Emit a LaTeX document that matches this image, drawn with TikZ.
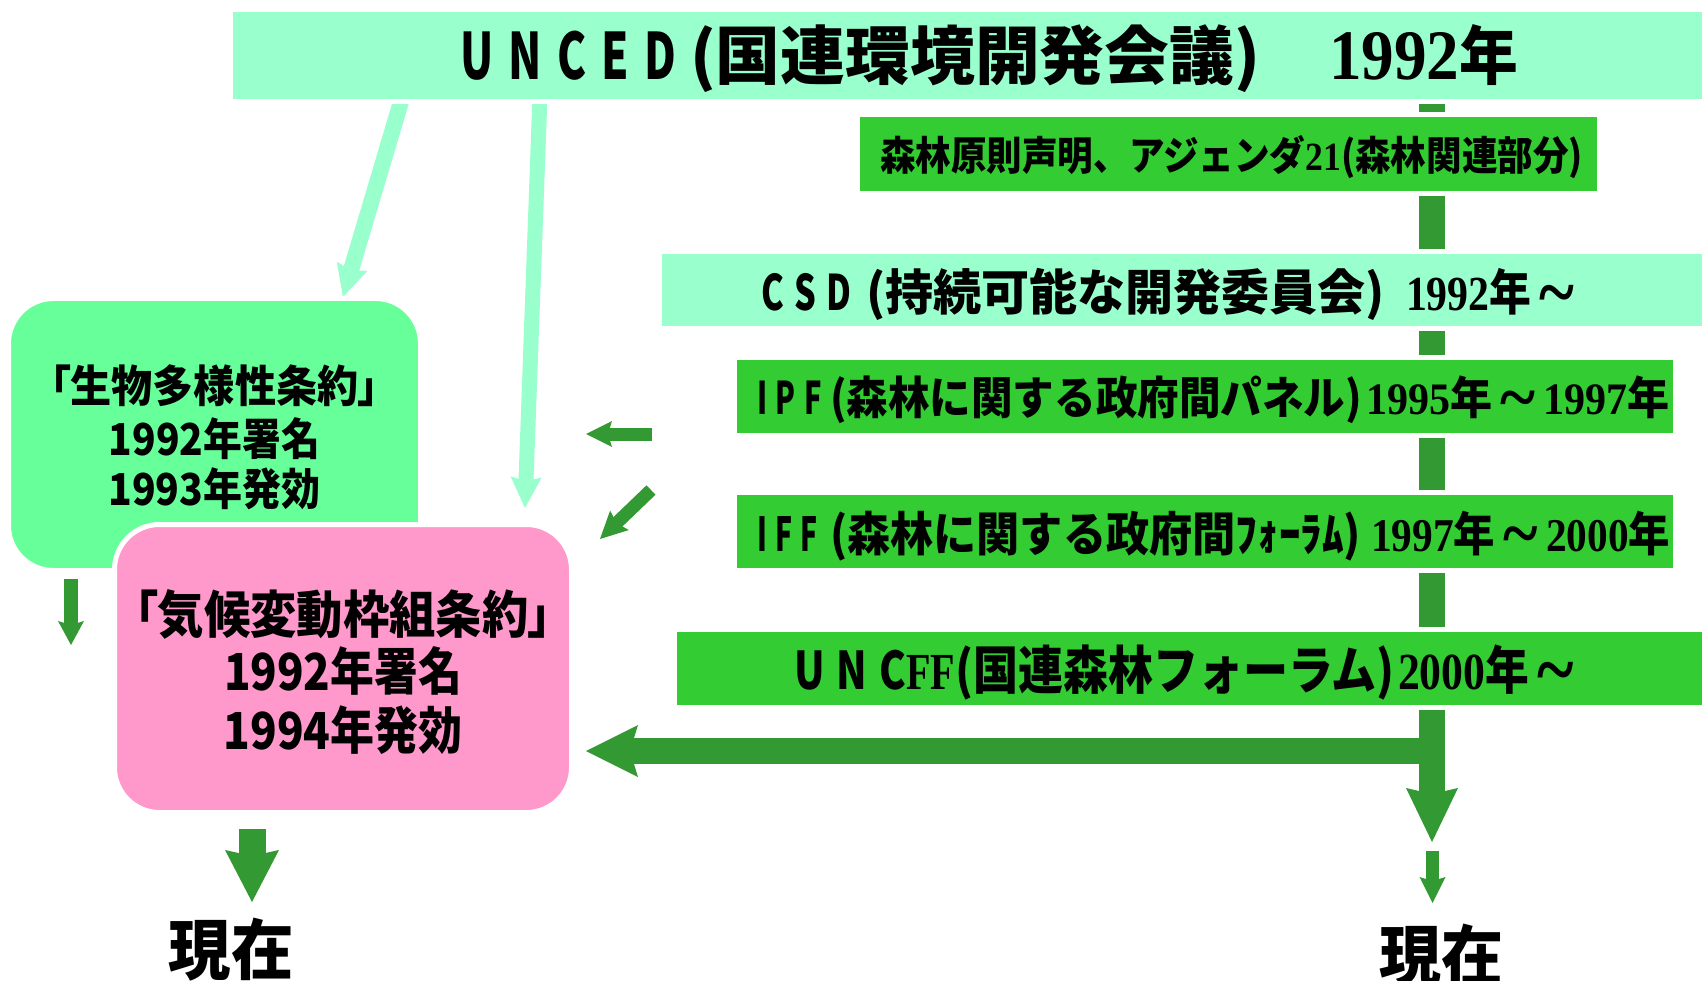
\documentclass[tikz,border=0pt]{standalone}
\usepackage{fontspec}
\usepackage{graphicx}
\usetikzlibrary{arrows.meta}
\newfontfamily\jp{Noto Sans CJK JP}
\newfontfamily\jpp{Noto Sans CJK JP}[RawFeature=+palt]
\newfontfamily\tnum{Liberation Serif}
\definecolor{mint}{HTML}{99FFCC}
\definecolor{lgreen}{HTML}{66FF99}
\definecolor{bgreen}{HTML}{33CC33}
\definecolor{dgreen}{HTML}{339933}
\definecolor{pinkc}{HTML}{FF99CC}
\definecolor{tealc}{HTML}{2E8B57}
\newcommand{\gw}[3]{\resizebox{#1pt}{\height}{\fontsize{#2pt}{#2pt}\selectfont #3}}
\newcommand{\tld}{{\tnum\bfseries\hspace{.2em}\raisebox{-0.16em}{\scalebox{1.6}{\textasciitilde}}\hspace{.2em}}}
\begin{document}
\begin{tikzpicture}[x=1pt,y=-1pt,
  box/.style={draw=white,line width=5pt,inner sep=0pt,outer sep=0pt,anchor=north west},
  lbl/.style={inner sep=0pt,outer sep=0pt,anchor=base west},
  clbl/.style={inner sep=0pt,outer sep=0pt,anchor=base},
  minta/.style={draw=mint,line width=#1},
  darka/.style={draw=dgreen,line width=#1},
  tipS/.style={-{Stealth[length=#1,width=#1,inset=4pt,line width=0pt]}},
]
\useasboundingbox (0,0) rectangle (1702,981);
\clip (0,0) rectangle (1702,981);
\fill[white] (0,0) rectangle (1702,981);
% coordinates for connectors
\coordinate (m1s) at (403,95);
\coordinate (m1e) at (343,297);
\coordinate (m2s) at (540,95);
\coordinate (m2e) at (525,508);
\coordinate (bartop) at (1432,95);
\coordinate (barend) at (1432,842);
\coordinate (hjoin) at (1432,751);
\coordinate (htip) at (586,751);
% mint arrows from UNCED
\draw[minta=16pt,tipS=32pt] (m1s) -- (m1e);
\draw[minta=15pt,tipS=31pt] (m2s) -- (m2e);
% main timeline bar and the big arrow to the climate convention
\draw[darka=26pt,-{Stealth[length=54pt,width=52pt,inset=6pt,line width=0pt]}] (bartop) -- (barend);
\draw[darka=26pt,-{Stealth[length=52pt,width=52pt,inset=8pt,line width=0pt]}] (hjoin) -- (htip);
% boxes
\node[box,fill=mint,minimum width=1484pt,minimum height=92pt] (unced) at (230.5,9.5) {};
\node[box,fill=bgreen,minimum width=742pt,minimum height=79pt] (forest) at (857.5,114.5) {};
\node[box,fill=mint,minimum width=1055pt,minimum height=77pt] (csd) at (659.5,251.5) {};
\node[box,fill=bgreen,minimum width=941pt,minimum height=78pt] (ipf) at (734.5,357.5) {};
\node[box,fill=bgreen,minimum width=941pt,minimum height=78pt] (iff) at (734.5,492.5) {};
\node[box,fill=bgreen,minimum width=1040pt,minimum height=78pt] (uncff) at (674.5,629.5) {};
\node[box,fill=lgreen,rounded corners=45pt,minimum width=412pt,minimum height=272pt] (cbd) at (8.5,298.5) {};
\node[box,fill=pinkc,rounded corners=45pt,minimum width=457pt,minimum height=288pt] (fccc) at (114.5,524.5) {};
% small arrows
\coordinate (a1s) at (652,434); \coordinate (a1e) at (586,434);
\coordinate (a2s) at (651,490); \coordinate (a2e) at (600,539);
\coordinate (a3s) at (71,579);  \coordinate (a3e) at (71,645);
\coordinate (a4s) at (252,829); \coordinate (a4e) at (252,902);
\coordinate (a5s) at (1432.5,851); \coordinate (a5e) at (1432.5,903);
\draw[darka=13pt,tipS=26pt] (a1s) -- (a1e);
\draw[darka=13pt,tipS=27pt] (a2s) -- (a2e);
\draw[darka=14pt,-{Stealth[length=24pt,width=26pt,inset=4pt,line width=0pt]}] (a3s) -- (a3e);
\draw[darka=27pt,-{Stealth[length=52pt,width=54pt,inset=6pt,line width=0pt]}] (a4s) -- (a4e);
\draw[darka=13pt,tipS=26pt] (a5s) -- (a5e);
% texts
\node[lbl] (uncedT) at (460,80) {\gw{216}{64}{\jp\bfseries U\hspace{.35em}N\hspace{.35em}C\hspace{.35em}E\hspace{.35em}D}\hspace{14pt}\gw{570}{64}{\jp\bfseries (国連環境開発会議)}\hspace{69pt}\gw{189}{64}{{\fontsize{71pt}{71pt}\selectfont\tnum\bfseries 1992}\jp\bfseries 年}};
\node[lbl] (forestT) at (880,171) {\gw{703}{40}{\jp\bfseries 森林原則声明、アジェンダ{\tnum\bfseries 21}(森林関連部分)}};
\node[lbl] (csdT) at (761,311) {\gw{90}{49}{\jp\bfseries C\hspace{.3em}S\hspace{.3em}D}\hspace{15pt}\gw{519}{49}{\jp\bfseries (持続可能な開発委員会)}\hspace{21pt}\gw{177}{49}{{\tnum\bfseries 1992}\jp\bfseries 年\tld}};
\node[lbl] (ipfT) at (757,414) {\gw{65}{45}{\jp\bfseries I\hspace{.3em}P\hspace{.3em}F}\hspace{8pt}\gw{532}{45}{\jp\bfseries (森林に関する政府間パネル)}\hspace{4pt}\gw{304}{45}{{\tnum\bfseries 1995}\jp\bfseries 年\tld{\tnum\bfseries 1997}年}};
\node[lbl] (iffT) at (757,551) {\gw{61}{47}{\jp\bfseries I\hspace{.3em}F\hspace{.3em}F}\hspace{12pt}\gw{531}{47}{\jp\bfseries (森林に関する政府間ﾌｫｰﾗﾑ)}\hspace{10pt}\gw{299}{47}{{\tnum\bfseries 1997}\jp\bfseries 年\tld{\tnum\bfseries 2000}年}};
\node[lbl] (uncffT) at (794,689) {\gw{161}{52}{\jp\bfseries U\hspace{.3em}N\hspace{.3em}C{\tnum\bfseries FF}}\gw{440}{52}{\jp\bfseries (国連森林フォーラム)}\hspace{3pt}\gw{185}{52}{{\tnum\bfseries 2000}\jp\bfseries 年\tld}};
\node[clbl] (cbd1) at (214.5,402) {\gw{329}{44}{\jpp\bfseries 「生物多様性条約」}};
\node[clbl] (cbd2) at (214.5,455) {\gw{211}{44}{\jp\bfseries 1992年署名}};
\node[clbl] (cbd3) at (214.5,505) {\gw{212}{44}{\jp\bfseries 1993年発効}};
\node[clbl] (fc1) at (343,633) {\gw{417}{51}{\jpp\bfseries 「気候変動枠組条約」}};
\node[clbl] (fc2) at (343,690) {\gw{238}{51}{\jp\bfseries 1992年署名}};
\node[clbl] (fc3) at (343,749) {\gw{239}{51}{\jp\bfseries 1994年発効}};
\node[clbl] (nowL) at (231,974) {\gw{125}{66}{\jp\bfseries 現在}};
\node[clbl] (nowR) at (1441,980) {\gw{124}{66}{\jp\bfseries 現在}};
% partial shape at the bottom edge
\fill[tealc] (1648,984) ellipse (22 and 3);
\end{tikzpicture}
\end{document}
